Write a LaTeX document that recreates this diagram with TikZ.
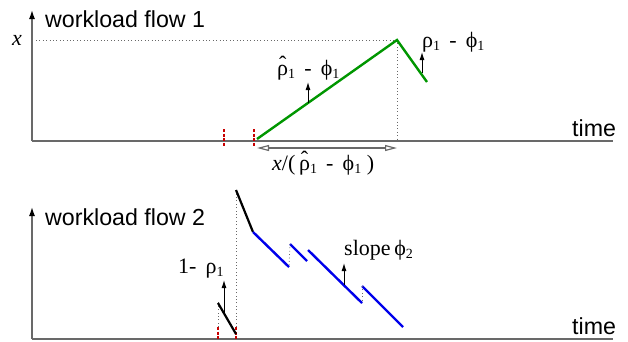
\documentclass[tikz,border=0pt]{standalone}
\usepackage{fontspec}
\setmainfont{Liberation Serif}
\newfontfamily\sansf{Liberation Sans}
\usetikzlibrary{arrows.meta}
\definecolor{grn}{RGB}{0,150,0}
\definecolor{blu}{RGB}{0,0,235}
\definecolor{dred}{RGB}{200,0,0}
\definecolor{axgray}{RGB}{105,105,105}
\newcommand\sbs[1]{\raisebox{-0.3ex}{\fontsize{14}{14}\selectfont #1}}
\newcommand\rhohat{\leavevmode\ooalign{ρ\cr\hidewidth\raisebox{0.3ex}{ˆ}\hidewidth\cr}}
\newcommand\phis{ϕ}
\begin{document}
\begin{tikzpicture}[x=1pt,y=-1pt,
  axis/.style={draw=axgray,line width=1.4pt},
  yaxis/.style={axis,-{Latex[length=9pt,width=6pt,color=black]}},
  dotline/.style={draw=axgray,line width=0.8pt,dash pattern=on 0.8pt off 2.6pt},
  reddash/.style={draw=dred,line width=1.8pt,dash pattern=on 3pt off 1.5pt},
  gline/.style={draw=grn,line width=2.4pt},
  bline/.style={draw=blu,line width=2.4pt},
  kline/.style={draw=black,line width=2.2pt},
  uparrow/.style={draw=black,line width=1pt,-{Latex[length=8pt,width=5pt]}},
  dimarrow/.style={draw=axgray,line width=1.2pt,{Stealth[open,length=12pt,width=6pt,inset=0pt]}-{Stealth[open,length=12pt,width=6pt,inset=0pt]}},
  sanslabel/.style={inner sep=0pt,anchor=base west,font=\sansf\fontsize{23.2}{24}\selectfont},
  mathlabel/.style={inner sep=0pt,anchor=base west,font=\fontsize{22}{24}\selectfont}]
\useasboundingbox (0,0) rectangle (628,341);

% ---------- top panel ----------
\coordinate (o1) at (32,141);
\coordinate (y1) at (32,10);
\coordinate (t1) at (613,141);
\draw[yaxis] (o1) -- (y1);
\draw[axis] (o1) -- (t1);
\node[sanslabel] (wf1) at (45,27) {workload flow 1};
\node[sanslabel] (time1) at (572,136) {time};
\node[mathlabel] (xlab) at (12,45) {\itshape x};

\coordinate (xd) at (36,40);
\coordinate (pk) at (397,40);
\coordinate (pkb) at (397,141);
\coordinate (g0) at (257,139);
\coordinate (g2) at (427,82);
\draw[dotline] (xd) -- (pk);
\draw[dotline] (pk) -- (pkb);
\draw[gline,line join=miter] (g0) -- (pk) -- (g2);

\coordinate (r1a) at (224,129); \coordinate (r1b) at (224,147);
\coordinate (r2a) at (254,129); \coordinate (r2b) at (254,147);
\draw[reddash] (r1a) -- (r1b);
\draw[reddash] (r2a) -- (r2b);

\coordinate (da) at (257,148);
\coordinate (db) at (397,148);
\draw[dimarrow] (da) -- (db);
\node[mathlabel] (dimlab) at (272,170) {\itshape x\upshape/(\,\rhohat\sbs{1}\, -\,  \phis\sbs{1} )};

\coordinate (ua1) at (308,103); \coordinate (ub1) at (308,82);
\draw[uparrow] (ua1) -- (ub1);
\node[mathlabel] (slope1) at (277,75) {\rhohat\sbs{1}\, -\,  \phis\sbs{1}};

\coordinate (ua2) at (422,73); \coordinate (ub2) at (422,52);
\draw[uparrow] (ua2) -- (ub2);
\node[mathlabel] (slope2) at (422,47) {ρ\sbs{1}\, -\,  \phis\sbs{1}};

% ---------- bottom panel ----------
\coordinate (o2) at (32,339);
\coordinate (y2) at (32,207);
\coordinate (t2) at (613,339);
\draw[yaxis] (o2) -- (y2);
\draw[axis] (o2) -- (t2);
\node[sanslabel] (wf2) at (45,225) {workload flow 2};
\node[sanslabel] (time2) at (572,334) {time};

\coordinate (s1) at (218,327); \coordinate (s1t) at (218,300);
\coordinate (s2) at (236,327); \coordinate (s2t) at (236,188);
\draw[dotline] (s1) -- (s1t);
\draw[dotline] (s2) -- (s2t);
\coordinate (q1a) at (218,327); \coordinate (q1b) at (218,340);
\coordinate (q2a) at (236,327); \coordinate (q2b) at (236,340);
\draw[reddash] (q1a) -- (q1b);
\draw[reddash] (q2a) -- (q2b);

\coordinate (k1a) at (218,303); \coordinate (k1b) at (236,334);
\draw[kline] (k1a) -- (k1b);
\coordinate (k2a) at (236,190); \coordinate (k2b) at (253,232);
\draw[kline] (k2a) -- (k2b);

\coordinate (b1b) at (289,267);
\coordinate (b2a) at (290,244); \coordinate (b2b) at (307,261);
\coordinate (b3a) at (308,250); \coordinate (b3b) at (362,303);
\coordinate (b4a) at (362,286); \coordinate (b4b) at (403,327);
\draw[bline] (k2b) -- (b1b);
\draw[bline] (b2a) -- (b2b);
\draw[bline] (b3a) -- (b3b);
\draw[bline] (b4a) -- (b4b);
\draw[dotline] (b2a) -- (b1b);
\draw[dotline] (b4a) -- (b3b);

\coordinate (ua3) at (224,313); \coordinate (ub3) at (224,280);
\draw[uparrow] (ua3) -- (ub3);
\node[mathlabel] (lab3) at (178,273) {1-\,  ρ\sbs{1}};

\coordinate (ua4) at (344,285); \coordinate (ub4) at (344,263);
\draw[uparrow] (ua4) -- (ub4);
\node[mathlabel] (lab4) at (344,255) {slope\,\phis\sbs{2}};
\end{tikzpicture}
\end{document}
